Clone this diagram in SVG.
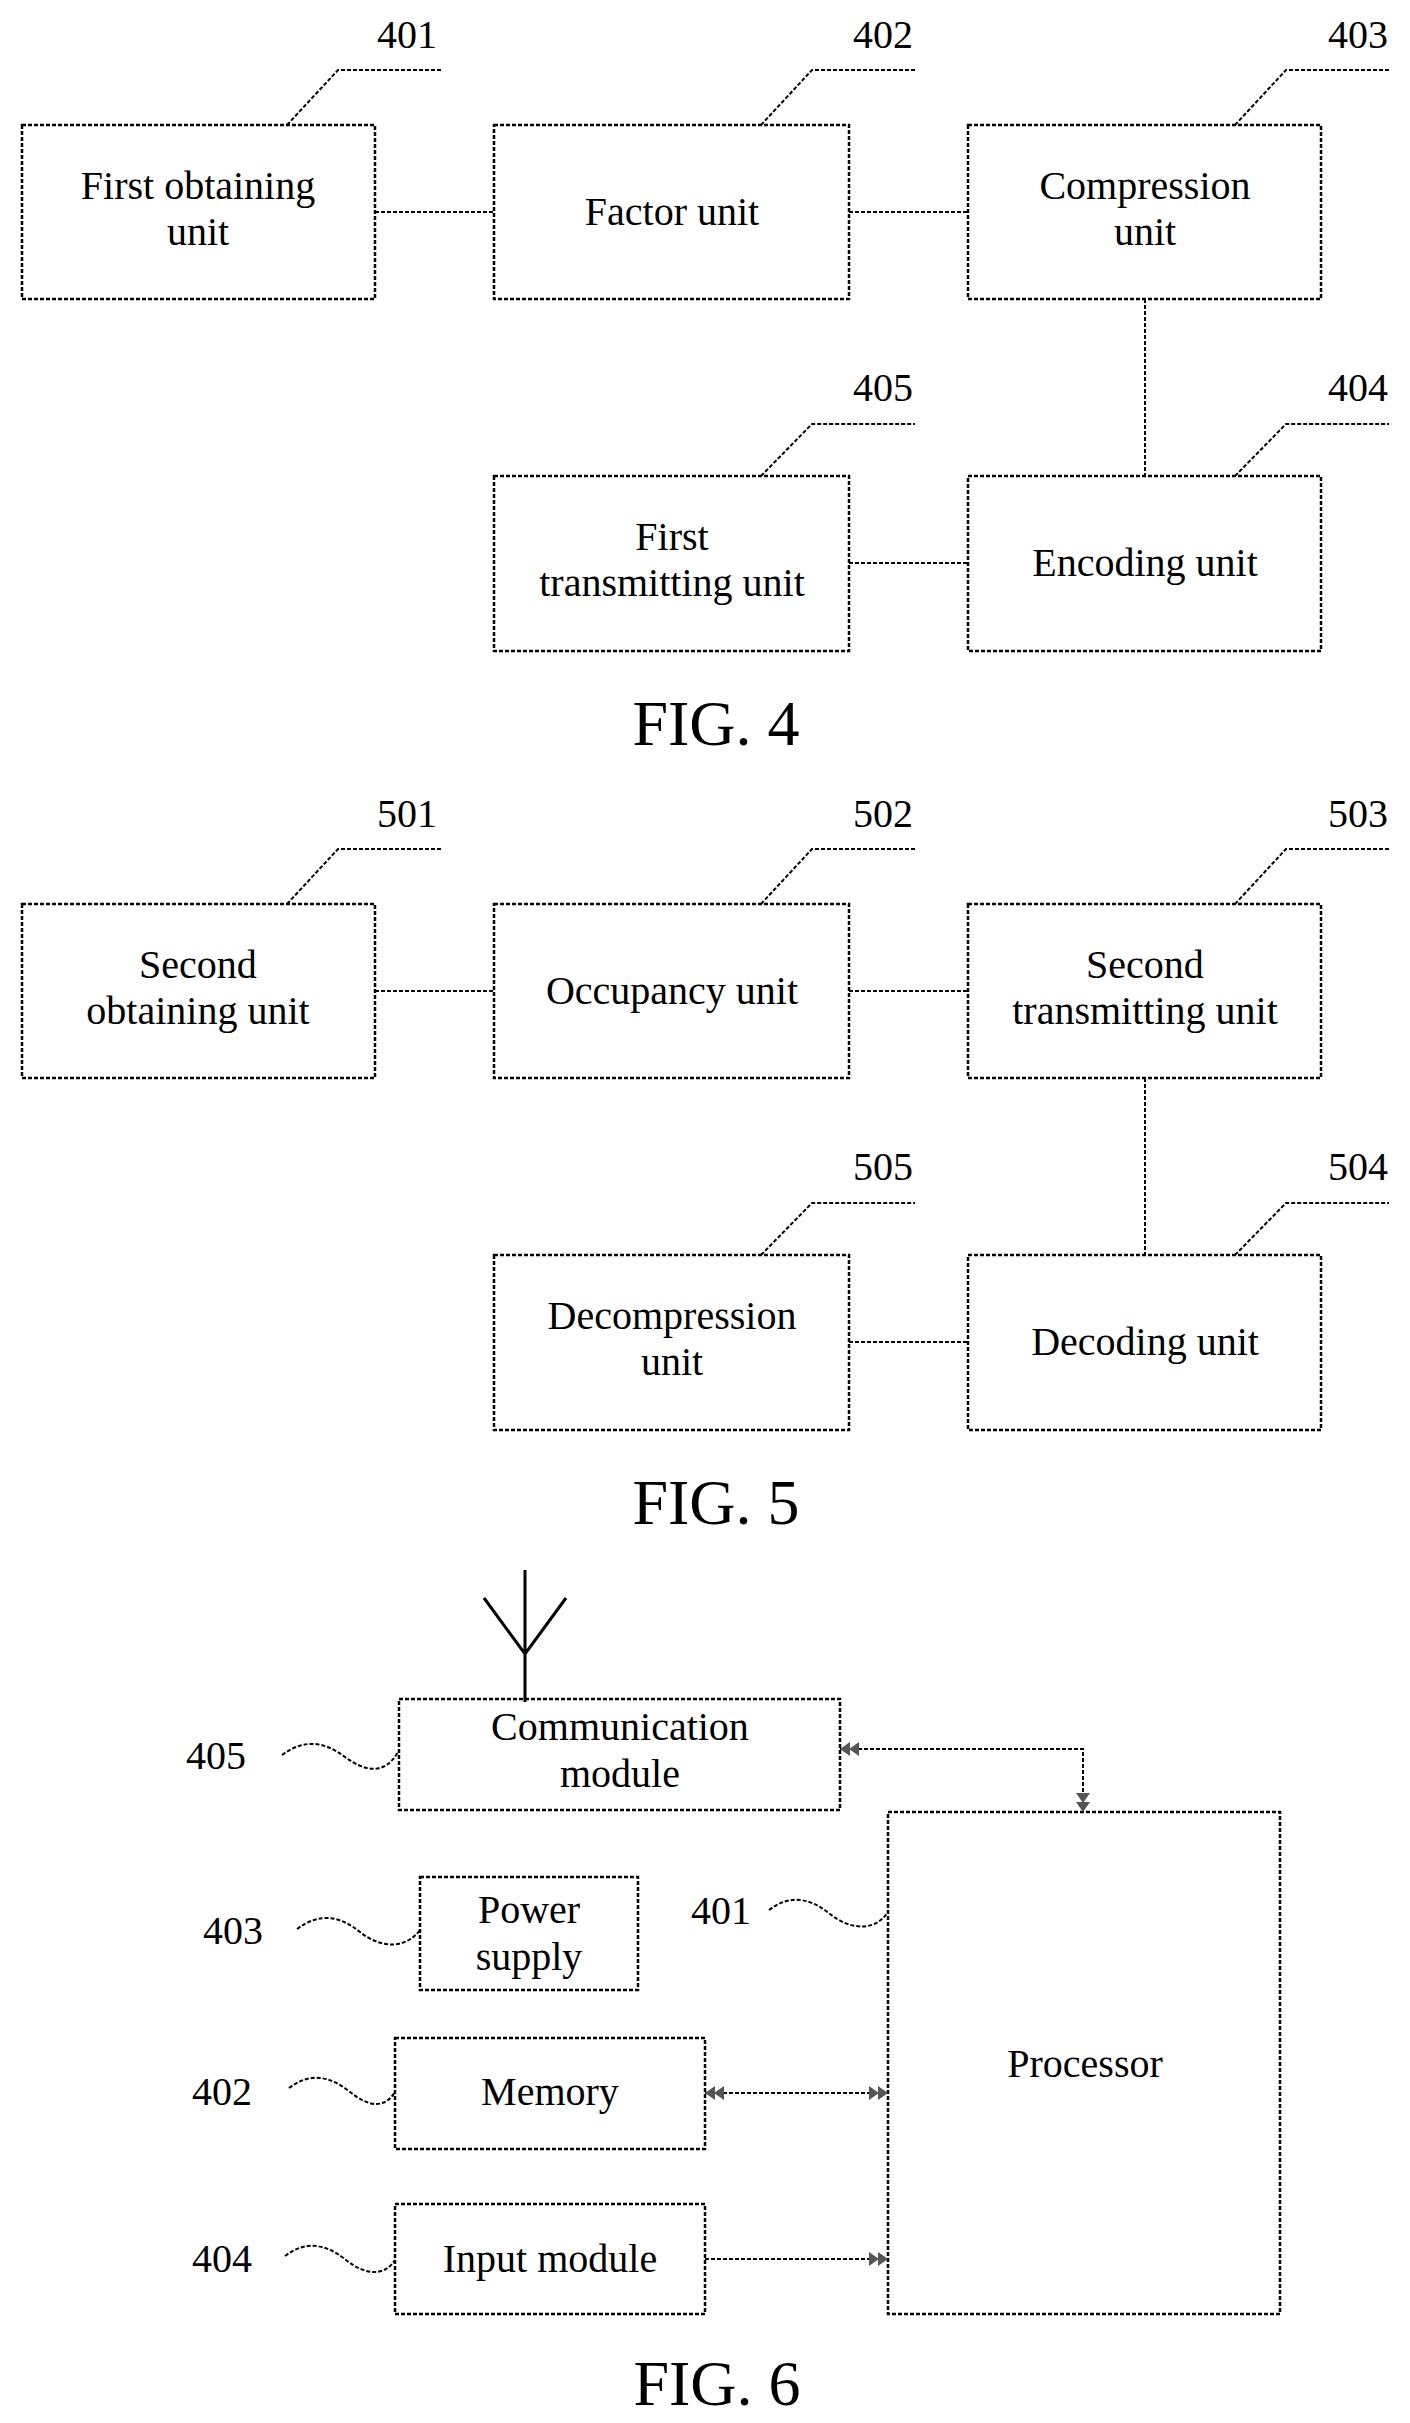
<svg xmlns="http://www.w3.org/2000/svg" width="1410" height="2423" viewBox="0 0 1410 2423">
<style>
.b{fill:none;stroke:#000;stroke-width:2.5;stroke-dasharray:4,2}
.l{fill:none;stroke:#000;stroke-width:2;stroke-dasharray:4,2}
.t{font-family:"Liberation Serif",serif;font-size:40px;text-anchor:middle;fill:#000}
.f{font-family:"Liberation Serif",serif;font-size:64px;text-anchor:middle;fill:#000}
</style>
<defs>
<marker id="a" viewBox="0 0 20 14" refX="19" refY="7" markerWidth="20" markerHeight="14" markerUnits="userSpaceOnUse" orient="auto-start-reverse">
<path d="M0,0 L10,7 L0,14 Z M9,0 L19,7 L9,14 Z" fill="#555"/>
</marker>
<g id="fig4">
<g id="n401"><rect class="b" x="22" y="125" width="353" height="174"/><text class="t" x="198" y="199">First obtaining</text><text class="t" x="198" y="245">unit</text><path class="l" d="M287,125 L338,70 L441,70"/><text class="t" x="407" y="48">401</text></g>
<g id="n402"><rect class="b" x="494" y="125" width="355" height="174"/><text class="t" x="672" y="225">Factor unit</text><path class="l" d="M761,125 L812,70 L915,70"/><text class="t" x="883" y="48">402</text></g>
<g id="n403"><rect class="b" x="968" y="125" width="353" height="174"/><text class="t" x="1145" y="199">Compression</text><text class="t" x="1145" y="245">unit</text><path class="l" d="M1235,125 L1286,70 L1389,70"/><text class="t" x="1358" y="48">403</text></g>
<g id="n405"><rect class="b" x="494" y="476" width="355" height="175"/><text class="t" x="672" y="550">First</text><text class="t" x="672" y="596">transmitting unit</text><path class="l" d="M761,476 L812,424 L915,424"/><text class="t" x="883" y="401">405</text></g>
<g id="n404"><rect class="b" x="968" y="476" width="353" height="175"/><text class="t" x="1145" y="576">Encoding unit</text><path class="l" d="M1235,476 L1286,424 L1389,424"/><text class="t" x="1358" y="401">404</text></g>
<g id="c4"><path class="l" d="M375,212 H494 M849,212 H968 M1145,299 V476 M849,563 H968"/></g>
<text class="f" x="716" y="745">FIG. 4</text>
</g>
</defs>
<use href="#fig4"/>
<g id="fig5" transform="translate(0,779)">
<g id="n501"><rect class="b" x="22" y="125" width="353" height="174"/><text class="t" x="198" y="199">Second</text><text class="t" x="198" y="245">obtaining unit</text><path class="l" d="M287,125 L338,70 L441,70"/><text class="t" x="407" y="48">501</text></g>
<g id="n502"><rect class="b" x="494" y="125" width="355" height="174"/><text class="t" x="672" y="225">Occupancy unit</text><path class="l" d="M761,125 L812,70 L915,70"/><text class="t" x="883" y="48">502</text></g>
<g id="n503"><rect class="b" x="968" y="125" width="353" height="174"/><text class="t" x="1145" y="199">Second</text><text class="t" x="1145" y="245">transmitting unit</text><path class="l" d="M1235,125 L1286,70 L1389,70"/><text class="t" x="1358" y="48">503</text></g>
<g id="n505"><rect class="b" x="494" y="476" width="355" height="175"/><text class="t" x="672" y="550">Decompression</text><text class="t" x="672" y="596">unit</text><path class="l" d="M761,476 L812,424 L915,424"/><text class="t" x="883" y="401">505</text></g>
<g id="n504"><rect class="b" x="968" y="476" width="353" height="175"/><text class="t" x="1145" y="576">Decoding unit</text><path class="l" d="M1235,476 L1286,424 L1389,424"/><text class="t" x="1358" y="401">504</text></g>
<g id="c5"><path class="l" d="M375,212 H494 M849,212 H968 M1145,299 V476 M849,563 H968"/></g>
<text class="f" x="716" y="745">FIG. 5</text>
</g>
<g id="fig6">
<g id="antenna"><path d="M525,1702 V1570 M484,1598 L525,1654 L566,1598" fill="none" stroke="#000" stroke-width="3"/></g>
<g id="comm"><rect class="b" x="399" y="1699" width="441" height="111"/><text class="t" x="620" y="1740">Communication</text><text class="t" x="620" y="1787">module</text><path class="l" d="M282,1755 C305,1738 325,1742 345,1757 S 385,1775 398,1752"/><text class="t" x="216" y="1769">405</text></g>
<g id="power"><rect class="b" x="420" y="1877" width="218" height="113"/><text class="t" x="529" y="1923">Power</text><text class="t" x="529" y="1970">supply</text><path class="l" d="M297,1929 C320,1912 340,1916 360,1932 S 405,1950 420,1930"/><text class="t" x="233" y="1944">403</text></g>
<g id="memory"><rect class="b" x="395" y="2038" width="310" height="111"/><text class="t" x="550" y="2105">Memory</text><path class="l" d="M289,2088 C310,2072 330,2076 350,2092 S 385,2108 395,2092"/><text class="t" x="222" y="2105">402</text></g>
<g id="input"><rect class="b" x="395" y="2204" width="310" height="110"/><text class="t" x="550" y="2272">Input module</text><path class="l" d="M285,2256 C306,2240 326,2244 346,2260 S 385,2276 395,2260"/><text class="t" x="222" y="2272">404</text></g>
<g id="processor"><rect class="b" x="888" y="1812" width="392" height="502"/><text class="t" x="1085" y="2077">Processor</text><path class="l" d="M769,1910 C790,1894 810,1898 830,1914 S 875,1932 888,1912"/><text class="t" x="721" y="1924">401</text></g>
<g id="c6">
<path class="l" d="M840,1749 H1083 V1812" marker-start="url(#a)" marker-end="url(#a)"/>
<path class="l" d="M705,2093 H888" marker-start="url(#a)" marker-end="url(#a)"/>
<path class="l" d="M705,2259 H888" marker-end="url(#a)"/>
</g>
<text class="f" x="717" y="2405">FIG. 6</text>
</g>
</svg>
